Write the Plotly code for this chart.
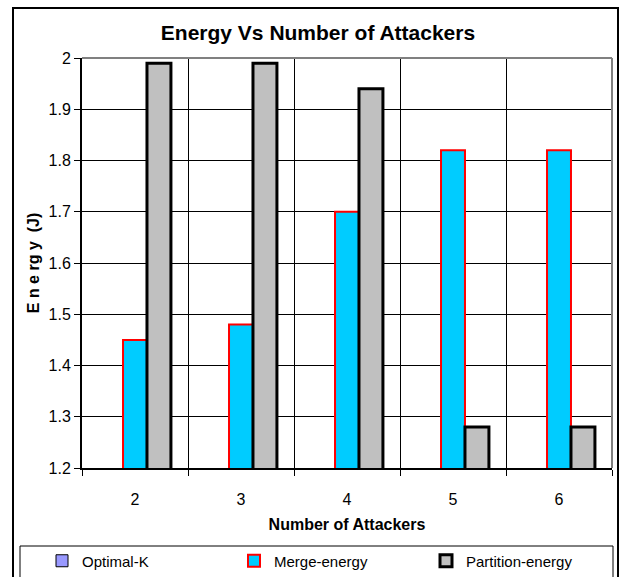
import plotly.graph_objects as go

# Number of attackers on the x axis
attackers = [2, 3, 4, 5, 6]

# Energy per scheme (J)
optimal_k = [None, None, None, None, None]
merge_energy = [1.45, 1.48, 1.70, 1.82, 1.82]
partition_energy = [1.99, 1.99, 1.94, 1.28, 1.28]

y_ticks = [1.2, 1.3, 1.4, 1.5, 1.6, 1.7, 1.8, 1.9, 2.0]
y_tick_text = ["1.2", "1.3", "1.4", "1.5", "1.6", "1.7", "1.8", "1.9", "2"]

FONT = "Liberation Sans, Arial, sans-serif"
W, H = 623, 577
L, R, T, B = 82, 612, 58, 468  # plot area in pixels

bar_w = 0.226

fig = go.Figure()
fig.add_trace(go.Bar(
    x=attackers, y=optimal_k, name="Optimal-K",
    width=bar_w, offset=-1.5 * bar_w,
    marker=dict(color="#9999FF", line=dict(color="#000000", width=1)),
))
fig.add_trace(go.Bar(
    x=attackers, y=merge_energy, name="Merge-energy",
    width=bar_w, offset=-0.5 * bar_w,
    marker=dict(color="#00CCFF", line=dict(color="#FF0000", width=2)),
))
fig.add_trace(go.Bar(
    x=attackers, y=partition_energy, name="Partition-energy",
    width=bar_w, offset=0.5 * bar_w,
    marker=dict(color="#C0C0C0", line=dict(color="#000000", width=3)),
))


def px_x(px):
    return (px - L) / (R - L)


def px_y(py):
    return (B - py) / (B - T)


shapes = [
    # outer chart border
    dict(type="rect", xref="paper", yref="paper",
         x0=px_x(13), x1=px_x(618), y0=px_y(600), y1=px_y(8),
         line=dict(color="#000000", width=2), layer="above"),
    # legend box
    dict(type="rect", xref="paper", yref="paper",
         x0=px_x(20), x1=px_x(613), y0=px_y(600), y1=px_y(546),
         line=dict(color="#000000", width=1), layer="above"),
    # top and right edges of plot area
    dict(type="line", xref="paper", yref="paper",
         x0=0, x1=1, y0=1, y1=1, line=dict(color="#808080", width=2), layer="above"),
    dict(type="line", xref="paper", yref="paper",
         x0=1, x1=1, y0=0, y1=1, line=dict(color="#808080", width=2), layer="above"),
]

fig.update_layout(
    width=W, height=H,
    margin=dict(l=L, r=W - R, t=T, b=H - B, pad=0, autoexpand=False),
    paper_bgcolor="white", plot_bgcolor="white",
    font=dict(family=FONT, size=16, color="#000000"),
    title=dict(text="<b>Energy Vs Number of Attackers</b>",
               x=318 / W, xref="container", xanchor="center",
               y=1 - 33 / H, yref="container", yanchor="middle",
               font=dict(family=FONT, size=21, color="#000000")),
    barmode="group",
    showlegend=True,
    legend=dict(orientation="h", x=px_x(42), xanchor="left",
                y=px_y(561), yanchor="middle",
                bgcolor="rgba(0,0,0,0)", borderwidth=0,
                entrywidth=147, entrywidthmode="pixels",
                font=dict(family=FONT, size=15), traceorder="normal"),
    xaxis=dict(
        range=[1.5, 6.5], tickmode="array", tickvals=attackers,
        ticktext=[str(a) for a in attackers], ticks="", showgrid=False,
        showline=True, linecolor="#000000", linewidth=2,
        tickfont=dict(family=FONT, size=16), ticklabelstandoff=16,
        minor=dict(tick0=1.5, dtick=1, showgrid=True, gridcolor="#000000",
                   gridwidth=1, ticks="outside", ticklen=6, tickcolor="#000000"),
        title=dict(text="<b>Number of Attackers</b>", standoff=12,
                   font=dict(family=FONT, size=16)),
        zeroline=False, automargin=False,
    ),
    yaxis=dict(
        range=[1.2, 2.0], tickmode="array", tickvals=y_ticks, ticktext=y_tick_text,
        ticks="outside", ticklen=6, tickcolor="#000000",
        showgrid=True, gridcolor="#000000", gridwidth=1,
        showline=True, linecolor="#000000", linewidth=2,
        tickfont=dict(family=FONT, size=16),
        title=dict(text="<b>E n e rg y  (J)</b>", standoff=5,
                   font=dict(family=FONT, size=16)),
        zeroline=False, automargin=False,
    ),
    shapes=shapes,
)

fig.write_html("out.html")
